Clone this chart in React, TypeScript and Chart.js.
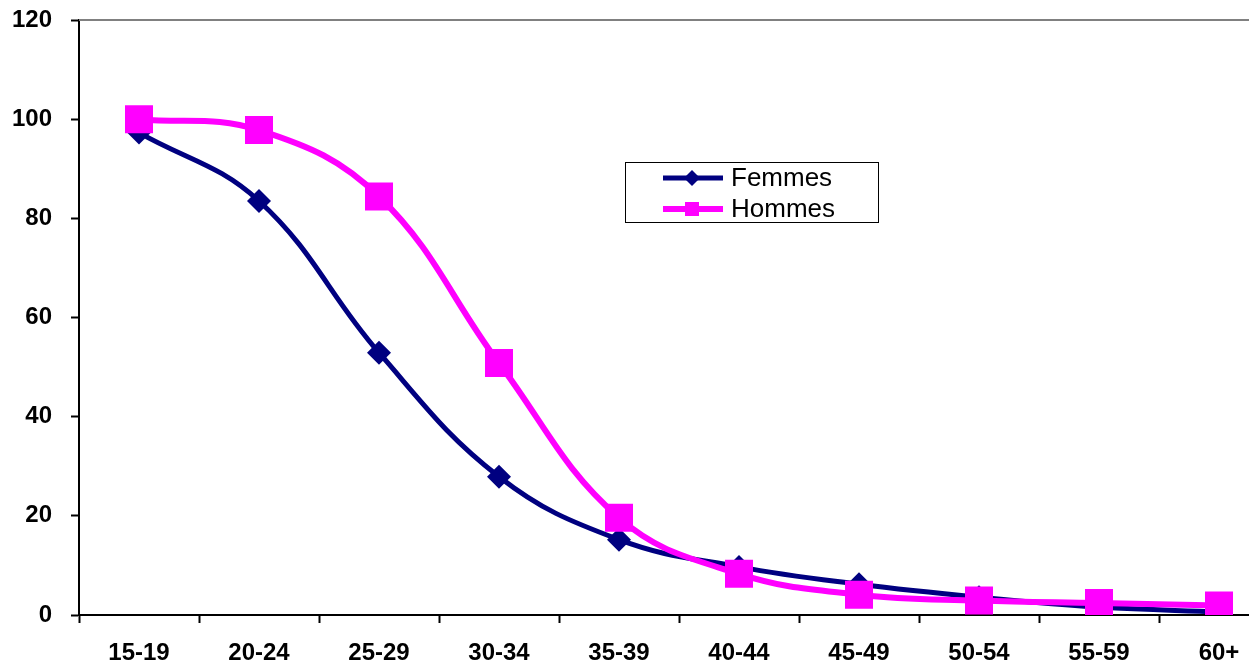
import React, { useEffect, useRef } from "react";
import { Chart, registerables } from "chart.js";

Chart.register(...registerables);

const categories = ["15-19", "20-24", "25-29", "30-34", "35-39", "40-44", "45-49", "50-54", "55-59", "60+"];
const femmes = [97.3, 83.5, 52.9, 27.9, 15.2, 9.7, 6.2, 3.6, 1.6, 0.6];
const hommes = [100, 97.8, 84.4, 50.8, 19.6, 8.3, 4.1, 2.9, 2.4, 1.9];
const yTicks = [0, 20, 40, 60, 80, 100, 120];
const seriesNames = ["Femmes", "Hommes"];
const NAVY = "#000080";
const MAGENTA = "#FF00FF";
const FONT = "'Liberation Sans', Arial, sans-serif";

const frameAndLegend = {
  id: "frameAndLegend",
  afterDraw(chart: any) {
    const { ctx, chartArea } = chart;
    ctx.save();
    // top plot border
    ctx.strokeStyle = "#808080";
    ctx.lineWidth = 2;
    ctx.beginPath();
    ctx.moveTo(chartArea.left, chartArea.top);
    ctx.lineTo(chartArea.right, chartArea.top);
    ctx.stroke();

    // legend box
    const bx = 625, by = 162, bw = 253, bh = 60;
    ctx.fillStyle = "#ffffff";
    ctx.fillRect(bx, by, bw, bh);
    ctx.strokeStyle = "#000000";
    ctx.lineWidth = 1;
    ctx.strokeRect(bx + 0.5, by + 0.5, bw, bh);

    const rows = [
      { name: seriesNames[0], color: NAVY, y: 178, lw: 5 },
      { name: seriesNames[1], color: MAGENTA, y: 209, lw: 6 },
    ];
    rows.forEach((r, i) => {
      ctx.strokeStyle = r.color;
      ctx.lineWidth = r.lw;
      ctx.beginPath();
      ctx.moveTo(663, r.y);
      ctx.lineTo(723, r.y);
      ctx.stroke();
      ctx.fillStyle = r.color;
      if (i === 0) {
        ctx.beginPath();
        ctx.moveTo(692, r.y - 8);
        ctx.lineTo(700, r.y);
        ctx.lineTo(692, r.y + 8);
        ctx.lineTo(684, r.y);
        ctx.closePath();
        ctx.fill();
      } else {
        ctx.fillRect(685, r.y - 7, 14, 14);
      }
      ctx.fillStyle = "#000000";
      ctx.font = `26px ${FONT}`;
      ctx.textAlign = "left";
      ctx.textBaseline = "middle";
      ctx.fillText(r.name, 731, r.y + 1);
    });
    ctx.restore();
  },
};

export default function App() {
  const ref = useRef<HTMLCanvasElement | null>(null);
  useEffect(() => {
    if (!ref.current) return;
    const chart = new Chart(ref.current, {
      type: "line",
      data: {
        labels: categories,
        datasets: [
          {
            label: seriesNames[0],
            data: femmes,
            borderColor: NAVY,
            backgroundColor: NAVY,
            borderWidth: 5,
            tension: 0.4,
            pointStyle: "rectRot",
            pointRadius: 12,
            pointBorderWidth: 0,
            pointBackgroundColor: NAVY,
            order: 1,
          },
          {
            label: seriesNames[1],
            data: hommes,
            borderColor: MAGENTA,
            backgroundColor: MAGENTA,
            borderWidth: 6,
            tension: 0.4,
            pointStyle: "rect",
            pointRadius: 19.8,
            pointBorderWidth: 0,
            pointBackgroundColor: MAGENTA,
            order: 0,
          },
        ],
      },
      options: {
        responsive: false,
        animation: false,
        layout: { autoPadding: false, padding: { top: 20, right: 21, left: 0, bottom: 0 } },
        plugins: { legend: { display: false }, tooltip: { enabled: false } },
        scales: {
          x: {
            type: "category",
            offset: true,
            grid: {
              offset: true,
              drawOnChartArea: false,
              drawTicks: true,
              tickLength: 8,
              tickColor: "#000000",
              tickWidth: 2,
            },
            border: { display: true, color: "#000000", width: 2 },
            ticks: {
              color: "#000000",
              padding: 16,
              maxRotation: 0,
              autoSkip: false,
              font: { family: FONT, size: 24, weight: "bold" },
            },
            afterFit(scale: any) {
              scale.height = 51;
              scale.paddingLeft = 0;
              scale.paddingRight = 0;
            },
          },
          y: {
            min: yTicks[0],
            max: yTicks[yTicks.length - 1],
            afterBuildTicks(scale: any) {
              scale.ticks = yTicks.map((v) => ({ value: v }));
            },
            grid: {
              drawOnChartArea: false,
              drawTicks: true,
              tickLength: 8,
              tickColor: "#000000",
              tickWidth: 2,
            },
            border: { display: true, color: "#000000", width: 2 },
            ticks: {
              color: "#000000",
              padding: 19,
              font: { family: FONT, size: 24, weight: "bold" },
            },
            afterFit(scale: any) {
              scale.width = 79;
              scale.paddingTop = 0;
              scale.paddingBottom = 0;
            },
          },
        },
      },
      plugins: [frameAndLegend],
    });
    return () => chart.destroy();
  }, []);

  return (
    <div
      style={{
        position: "absolute",
        left: 0,
        top: 0,
        width: 1249,
        height: 666,
        overflow: "hidden",
        background: "#ffffff",
      }}
    >
      <canvas ref={ref} width={1300} height={666} style={{ display: "block" }} />
    </div>
  );
}
